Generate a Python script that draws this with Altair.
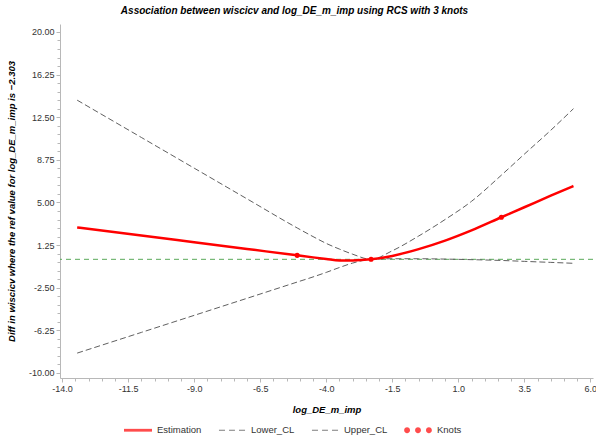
import altair as alt
import pandas as pd

# ---- data ----
x_vals = [-13.43, -11.0, -9.0, -7.0, -5.1, -4.5, -4.0, -3.5, -3.0, -2.303,
          -1.5, -0.5, 0.5, 1.5, 2.63, 3.5, 4.5, 5.36]
estimation = [2.80, 2.09, 1.50, 0.91, 0.35, 0.17, 0.03, -0.10, -0.10, 0.0,
              0.30, 0.90, 1.65, 2.55, 3.70, 4.58, 5.60, 6.45]
lower_cl = [-8.25, -6.43, -4.93, -3.43, -2.00, -1.55, -1.15, -0.72, -0.33, 0.0,
            0.05, 0.05, 0.02, -0.03, -0.10, -0.18, -0.27, -0.35]
upper_cl = [14.00, 10.72, 8.02, 5.32, 2.76, 2.00, 1.40, 0.90, 0.45, 0.0,
            0.75, 2.05, 3.50, 5.10, 7.40, 9.25, 11.35, 13.25]
knot_x = [-5.1, -2.303, 2.63]
knot_y = [0.35, 0.0, 3.70]
ref_y = [0.0]

series_names = ["Estimation", "Lower_CL", "Upper_CL", "Knots"]
series_colors = ["#ff0000", "#444444", "#444444", "#ff0000"]

x_ticks = [-14.0 + 0.5 * i for i in range(41)]
y_ticks = [-10.0 + 0.75 * i for i in range(41)]

FONT = "Liberation Sans"

est_df = pd.DataFrame({"x": x_vals, "y": estimation})
cl_df = pd.concat([
    pd.DataFrame({"x": x_vals, "y": lower_cl, "series": "Lower_CL"}),
    pd.DataFrame({"x": x_vals, "y": upper_cl, "series": "Upper_CL"}),
])
knots_df = pd.DataFrame({"x": knot_x, "y": knot_y})
ref_df = pd.DataFrame({"y": ref_y})
legend_df = pd.DataFrame({"series": series_names})

x_major = "abs((datum.value + 14) / 2.5 - round((datum.value + 14) / 2.5)) < 0.001"
y_major = "abs((datum.value + 10) / 3.75 - round((datum.value + 10) / 3.75)) < 0.001"

x_scale = alt.Scale(domain=[-14.08, 6.1], nice=False, zero=False)
y_scale = alt.Scale(domain=[-10.44, 20.7], nice=False, zero=False)

axis_common = dict(
    grid=False, domainColor="#b8b8b8", tickColor="#b8b8b8",
    labelColor="#333333", labelFont=FONT, labelFontSize=9,
    titleFont=FONT, titleFontSize=9.5, titleFontWeight="bold",
    titleFontStyle="italic", titleColor="#000000",
    labelOverlap=False, labelFlush=False, labelPadding=2, tickCount=200,
)

x_axis = alt.Axis(
    values=x_ticks, format=".1f",
    labelExpr=f"({x_major}) ? replace(datum.label, '\u2212', '-') : ''",
    tickSize={"condition": {"test": x_major, "value": 4}, "value": 3},
    title="log_DE_m_imp", titlePadding=11, **axis_common,
)
y_axis = alt.Axis(
    values=y_ticks, format=".2f",
    labelExpr=f"({y_major}) ? replace(datum.label, '\u2212', '-') : ''",
    tickSize={"condition": {"test": y_major, "value": 4}, "value": 3},
    title="Diff in wiscicv where the ref value for log_DE_m_imp is \u22122.303",
    titlePadding=12, **axis_common,
)

ref_layer = alt.Chart(ref_df).mark_rule(
    color="#5aaa5a", strokeDash=[5, 4], strokeWidth=1
).encode(y=alt.Y("y:Q", scale=y_scale, axis=y_axis))

cl_layer = alt.Chart(cl_df).mark_line(
    strokeDash=[6, 3], strokeWidth=1, interpolate="monotone"
).encode(
    x=alt.X("x:Q", scale=x_scale, axis=x_axis),
    y=alt.Y("y:Q", scale=y_scale, axis=y_axis),
    detail="series:N",
    color=alt.value("#606060"),
)

est_layer = alt.Chart(est_df).mark_line(
    color="#ff0000", strokeWidth=2.5, interpolate="monotone"
).encode(
    x=alt.X("x:Q", scale=x_scale),
    y=alt.Y("y:Q", scale=y_scale),
)

knots_layer = alt.Chart(knots_df).mark_circle(
    color="#ff0000", size=26, opacity=1
).encode(
    x=alt.X("x:Q", scale=x_scale),
    y=alt.Y("y:Q", scale=y_scale),
)

# legend symbols (unit box -1..1)
legend_paths = [
    "M-1,-0.1H1V0.1H-1Z",
    "M-0.93,-0.04H-0.5V0.04H-0.93Z M-0.21,-0.04H0.21V0.04H-0.21Z M0.5,-0.04H0.93V0.04H0.5Z",
    "M-0.93,-0.04H-0.5V0.04H-0.93Z M-0.21,-0.04H0.21V0.04H-0.21Z M0.5,-0.04H0.93V0.04H0.5Z",
    "M-0.99,0a0.21,0.21 0 1,0 0.42,0a0.21,0.21 0 1,0 -0.42,0Z "
    "M-0.21,0a0.21,0.21 0 1,0 0.42,0a0.21,0.21 0 1,0 -0.42,0Z "
    "M0.57,0a0.21,0.21 0 1,0 0.42,0a0.21,0.21 0 1,0 -0.42,0Z",
]

leg = alt.Legend(
    title=None, orient="none", legendX=64, legendY=392,
    direction="horizontal", columns=4, symbolSize=784,
    symbolStrokeWidth=0, labelOffset=5, columnPadding=16,
    labelFont=FONT, labelFontSize=9.5, labelColor="#333333",
)

legend_layer = alt.Chart(legend_df).transform_filter("false").mark_point(
    filled=True
).encode(
    color=alt.Color("series:N", scale=alt.Scale(domain=series_names, range=series_colors), legend=leg),
    shape=alt.Shape("series:N", scale=alt.Scale(domain=series_names, range=legend_paths), legend=leg),
)

chart = alt.layer(
    ref_layer, cl_layer, est_layer, knots_layer, legend_layer
).properties(
    width=533, height=354,
    padding={"left": 60, "top": 24, "right": 3, "bottom": 63},
    autosize=alt.AutoSizeParams(type="none"),
    title=alt.TitleParams(
        "Association between wiscicv and log_DE_m_imp using RCS with 3 knots",
        font=FONT, fontSize=10, fontWeight="bold", fontStyle="italic",
        anchor="middle", dx=-32, offset=8, color="#000000",
    ),
    background="white",
).configure_view(stroke=None)

chart.save("out.html", embed_options={"renderer": "svg", "actions": False})
